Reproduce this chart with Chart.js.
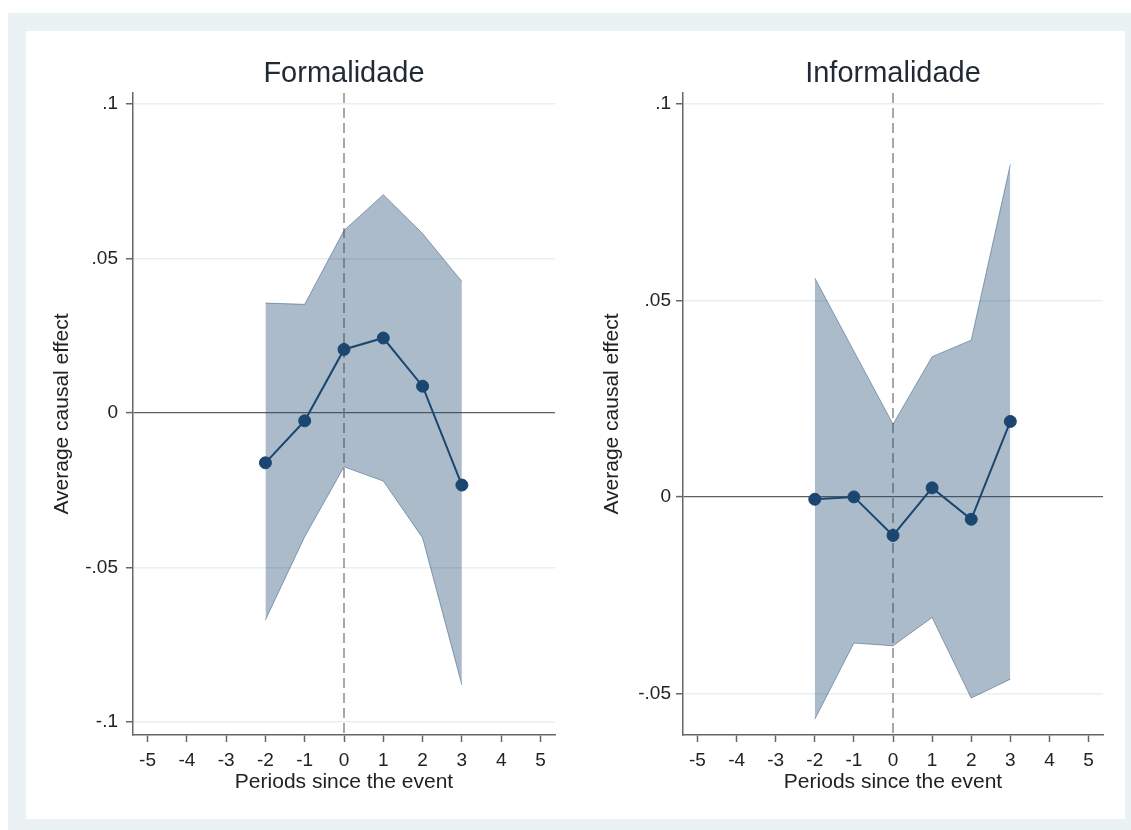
<!doctype html>
<html>
  <head>
    <script src="https://cdn.jsdelivr.net/npm/chart.js"></script>
    <meta name="viewport" content="width=device-width, initial-scale=1" />
    <link rel="icon" href="data:," />
    <style>
      html, body {
        margin: 0;
        padding: 0;
        background: #ffffff;
      }
      #outer {
        position: absolute;
        left: 8px;
        top: 13px;
        width: 1123px;
        height: 817px;
        background: #eaf2f3;
      }
      #inner {
        position: absolute;
        left: 26px;
        top: 31px;
        width: 1099px;
        height: 788px;
        background: #ffffff;
      }
      canvas {
        position: absolute;
        top: 31px;
      }
    </style>
  </head>
  <body>
    <div id="outer"></div>
    <div id="inner"></div>
    <canvas id="formalChart" width="548" height="788" style="left: 26px"></canvas>
    <canvas id="informalChart" width="551" height="788" style="left: 574px"></canvas>
    <script>
      // periods since the event
      const periods = [-2, -1, 0, 1, 2, 3];
      const xTicks = [-5, -4, -3, -2, -1, 0, 1, 2, 3, 4, 5];

      // Formalidade
      const formalEst = [-0.0161, -0.0025, 0.0206, 0.0243, 0.0087, -0.0233];
      const formalUpper = [0.0356, 0.0352, 0.0591, 0.0707, 0.0581, 0.0426];
      const formalLower = [-0.067, -0.04, -0.0174, -0.022, -0.0404, -0.088];
      const formalYTicks = [-0.1, -0.05, 0, 0.05, 0.1];
      const formalYLabels = ["-.1", "-.05", "0", ".05", ".1"];

      // Informalidade
      const informalEst = [-0.0006, 0.0, -0.0098, 0.0023, -0.0057, 0.0192];
      const informalUpper = [0.0557, 0.0371, 0.0185, 0.0357, 0.0399, 0.0846];
      const informalLower = [-0.0566, -0.0372, -0.0379, -0.0307, -0.0512, -0.0464];
      const informalYTicks = [-0.05, 0, 0.05, 0.1];
      const informalYLabels = ["-.05", "0", ".05", ".1"];

      const navy = "#1a476f";
      const font = "'Liberation Sans', Arial, sans-serif";

      function toPoints(values) {
        return periods.map((p, i) => ({ x: p, y: values[i] }));
      }

      // dashed line at the event, drawn through the plot
      const eventLine = {
        id: "eventLine",
        beforeDatasetsDraw(chart) {
          const { ctx, chartArea, scales } = chart;
          const x = scales.x.getPixelForValue(0);
          ctx.save();
          ctx.strokeStyle = "#8c8c8c";
          ctx.lineWidth = 1.5;
          ctx.setLineDash([10, 5]);
          ctx.beginPath();
          ctx.moveTo(x, chartArea.top);
          ctx.lineTo(x, chartArea.bottom);
          ctx.stroke();
          ctx.restore();
        },
      };

      function makeChart(id, title, est, upper, lower, yTicks, yLabels, yMin, yMax, opts) {
        const ctx = document.getElementById(id).getContext("2d");
        return new Chart(ctx, {
          type: "line",
          data: {
            datasets: [
              {
                data: toPoints(upper),
                borderColor: "rgba(26, 71, 111, 0.45)",
                backgroundColor: "rgba(26, 71, 111, 0.37)",
                borderWidth: 1,
                pointRadius: 0,
                fill: "+1",
              },
              {
                data: toPoints(lower),
                borderColor: "rgba(26, 71, 111, 0.45)",
                borderWidth: 1,
                pointRadius: 0,
                fill: false,
              },
              {
                data: toPoints(est),
                borderColor: navy,
                borderWidth: 2,
                pointRadius: 6,
                pointBackgroundColor: navy,
                pointBorderColor: navy,
                pointBorderWidth: 1,
                fill: false,
              },
            ],
          },
          options: {
            responsive: false,
            animation: false,
            devicePixelRatio: 1,
            layout: { padding: { left: 0, right: opts.right, top: 0, bottom: 0 } },
            plugins: {
              legend: { display: false },
              tooltip: { enabled: false },
              title: {
                display: true,
                text: title,
                fullSize: false,
                color: "#1f2a36",
                font: { family: font, size: 29, weight: "normal" },
                padding: { top: 25.6, bottom: 1.6 },
              },
            },
            scales: {
              x: {
                type: "linear",
                min: -5.37,
                max: 5.37,
                afterBuildTicks: (scale) => {
                  scale.ticks = xTicks.map((v) => ({ value: v }));
                },
                afterFit: (scale) => {
                  scale.height = 84;
                },
                ticks: {
                  color: "#222",
                  font: { family: font, size: 19 },
                  padding: 7,
                  maxRotation: 0,
                  autoSkip: false,
                  callback: (v) => String(v),
                },
                grid: {
                  drawOnChartArea: false,
                  drawTicks: true,
                  tickLength: 7,
                  tickColor: "#666",
                  tickWidth: 1.5,
                },
                border: { display: true, color: "#666", width: 1.5 },
                title: {
                  display: true,
                  text: "Periods since the event",
                  color: "#222",
                  font: { family: font, size: 21 },
                  padding: { top: 0, bottom: 24.4 },
                },
              },
              y: {
                type: "linear",
                min: yMin,
                max: yMax,
                afterBuildTicks: (scale) => {
                  scale.ticks = yTicks.map((v) => ({ value: v }));
                },
                afterFit: (scale) => {
                  scale.width = opts.yWidth;
                },
                ticks: {
                  color: "#222",
                  font: { family: font, size: 19 },
                  padding: opts.tickPad,
                  callback: (v) => yLabels[yTicks.indexOf(v)],
                },
                grid: {
                  color: (c) => (c.tick && c.tick.value === 0 ? "#5f5f5f" : "#e6eff1"),
                  lineWidth: (c) => (c.tick && c.tick.value === 0 ? 1.2 : 1.5),
                  tickLength: 7,
                  tickColor: "#666",
                  tickWidth: 1.5,
                },
                border: { display: true, color: "#666", width: 1.5 },
                title: {
                  display: true,
                  text: "Average causal effect",
                  color: "#222",
                  font: { family: font, size: 21 },
                  padding: { top: opts.titlePad, bottom: 0 },
                },
              },
            },
          },
          plugins: [eventLine],
        });
      }

      makeChart("formalChart", "Formalidade", formalEst, formalUpper, formalLower,
        formalYTicks, formalYLabels, -0.1042, 0.1036,
        { right: 19, yWidth: 107, tickPad: 8, titlePad: 23.4 });

      makeChart("informalChart", "Informalidade", informalEst, informalUpper, informalLower,
        informalYTicks, informalYLabels, -0.0606, 0.1028,
        { right: 22, yWidth: 109, tickPad: 5, titlePad: 25.4 });
    </script>
  </body>
</html>
